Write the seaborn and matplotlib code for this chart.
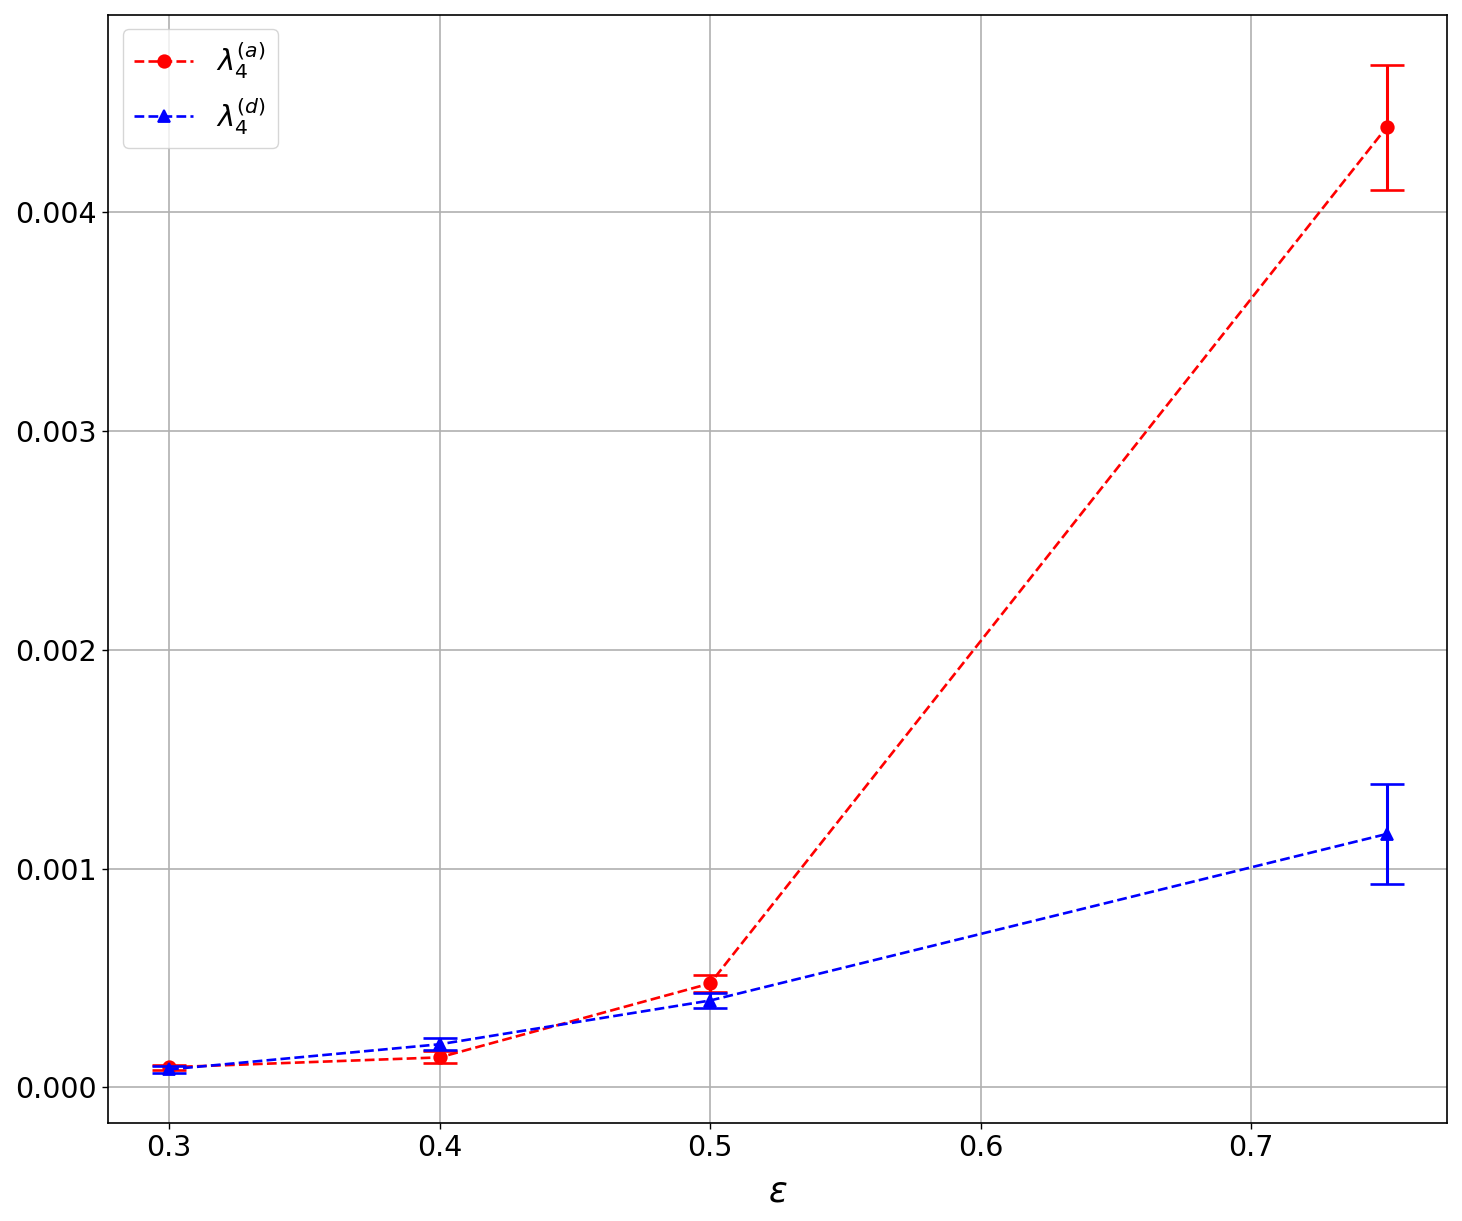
import numpy as np
import pandas as pd
import seaborn as sns
import matplotlib.pyplot as plt

# values
eps = [0.3, 0.4, 0.5, 0.75]
lam_a = [0.000092, 0.000137, 0.000475, 0.004388]
lam_a_err = [0.000012, 0.000027, 0.000038, 0.000285]
lam_d = [0.000082, 0.000197, 0.000397, 0.001158]
lam_d_err = [0.000016, 0.000028, 0.000035, 0.000229]

df = pd.DataFrame({"eps": eps, "a": lam_a, "d": lam_d})

fig, ax = plt.subplots(figsize=(14.62, 12.21), dpi=100)

# (a) series
sns.lineplot(data=df, x="eps", y="a", ax=ax, color="red", marker="o",
             markersize=9, markeredgewidth=1.3, markeredgecolor="red",
             linestyle="--", linewidth=1.9, label=r"$\lambda_4^{(a)}$")
ax.errorbar(eps, lam_a, yerr=lam_a_err, fmt="none", ecolor="red",
            elinewidth=2.2, capsize=12, capthick=1.9)

# (d) series
sns.lineplot(data=df, x="eps", y="d", ax=ax, color="blue", marker="^",
             markersize=9, markeredgewidth=1.3, markeredgecolor="blue",
             linestyle="--", linewidth=1.9, label=r"$\lambda_4^{(d)}$")
ax.errorbar(eps, lam_d, yerr=lam_d_err, fmt="none", ecolor="blue",
            elinewidth=2.2, capsize=12, capthick=1.9)

ax.set_xlabel(r"$\epsilon$", fontsize=25, labelpad=9)
ax.set_ylabel("")
ax.set_xticks([0.3, 0.4, 0.5, 0.6, 0.7])
ax.set_yticks([0.0, 0.001, 0.002, 0.003, 0.004])
ax.yaxis.set_major_formatter(plt.FormatStrFormatter("%.3f"))
ax.tick_params(labelsize=20.5, length=4.5, width=1.0)
for s in ax.spines.values():
    s.set_linewidth(1.2)
ax.grid(True, color="#b0b0b0", linewidth=1.2)
ax.legend(loc="upper left", fontsize=21, handlelength=2.0)

plt.subplots_adjust(left=0.074, right=0.99, top=0.988, bottom=0.08)
plt.savefig("out.png", dpi=100)
